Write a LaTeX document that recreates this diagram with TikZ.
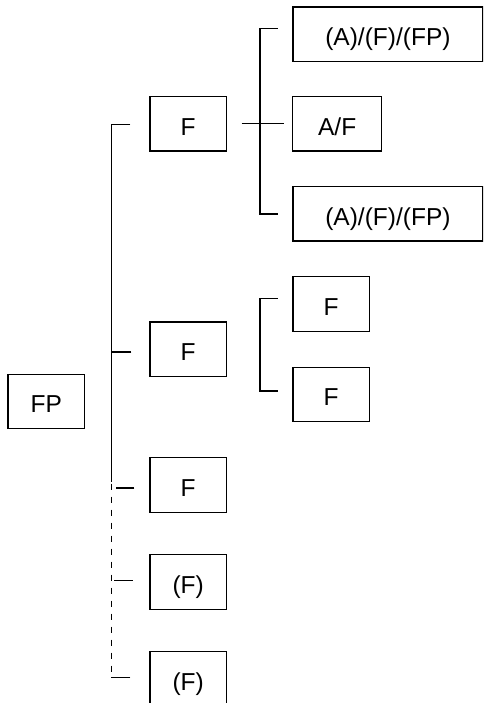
\documentclass[tikz,border=0pt]{standalone}
\usepackage{fontspec}
\setmainfont{Liberation Sans}
\tikzset{
  x=1pt,y=-1pt,
  box/.style={draw,line width=1.3pt,minimum height=54.4pt,inner sep=0pt,
    font=\fontsize{24.5}{28}\selectfont,text height=22.5pt,text depth=0pt},
  sbox/.style={box,minimum width=76.3pt},
  wbox/.style={box,minimum width=190pt},
  conn/.style={line width=1.3pt},
  dconn/.style={line width=1.3pt,dash pattern=on 6pt off 7pt}
}
\begin{document}
\begin{tikzpicture}
\useasboundingbox (0,0) rectangle (483,703);
\clip (0,0) rectangle (483,703);
\node[sbox] (FP) at (46.2,401.5) {FP};
\node[sbox] (F1) at (188.2,123.8) {F};
\node[sbox] (F2) at (188.2,349.2) {F};
\node[sbox] (F3) at (188.2,485) {F};
\node[sbox] (F4) at (188.2,582) {(F)};
\node[sbox] (F5) at (188.2,679) {(F)};
\node[wbox] (L1) at (387.9,34.2) {(A)/(F)/(FP)};
\node[box,minimum width=89pt] (AF) at (337.2,123.8) {A/F};
\node[wbox] (L3) at (387.9,213.8) {(A)/(F)/(FP)};
\node[sbox] (G1) at (331,304) {F};
\node[sbox] (G2) at (331,394.5) {F};
% level 1 bracket
\draw[conn] ([xshift=-19pt,yshift=-0.9pt]F1.west) -- ([xshift=-38pt,yshift=-0.9pt]F1.west) -- ([xshift=-38pt,yshift=3.3pt]F3.west);
\draw[conn] ([xshift=-18pt,yshift=-2.8pt]F2.west) -- ([xshift=-38pt,yshift=-2.8pt]F2.west);
\draw[dconn] ([xshift=-38pt,yshift=1.3pt]F3.west) -- ([xshift=-38pt,yshift=1.3pt]F5.west);
\draw[conn] ([xshift=-15pt,yshift=-3pt]F3.west) -- ([xshift=-33.5pt,yshift=-3pt]F3.west);
\draw[conn] ([xshift=-16.5pt,yshift=1.7pt]F4.west) -- ([xshift=-35pt,yshift=1.7pt]F4.west);
\draw[conn] ([xshift=-19pt,yshift=1.3pt]F5.west) -- ([xshift=-38.6pt,yshift=1.3pt]F5.west);
% level 2 bracket from F1
\draw[conn] ([xshift=-14.3pt,yshift=5.9pt]L1.west) -- ([xshift=-32.3pt,yshift=5.9pt]L1.west) -- ([xshift=-32.3pt,yshift=-0.2pt]L3.west) -- ([xshift=-14.3pt,yshift=-0.2pt]L3.west);
\draw[conn] ([xshift=14.7pt]F1.east) -- ([xshift=-7.7pt]AF.west);
% level 2 bracket from F2
\draw[conn] ([xshift=-14.3pt,yshift=5.3pt]G1.west) -- ([xshift=-32.3pt,yshift=5.3pt]G1.west) -- ([xshift=-32.3pt,yshift=3.5pt]G2.west) -- ([xshift=-14.3pt,yshift=3.5pt]G2.west);
\end{tikzpicture}
\end{document}
